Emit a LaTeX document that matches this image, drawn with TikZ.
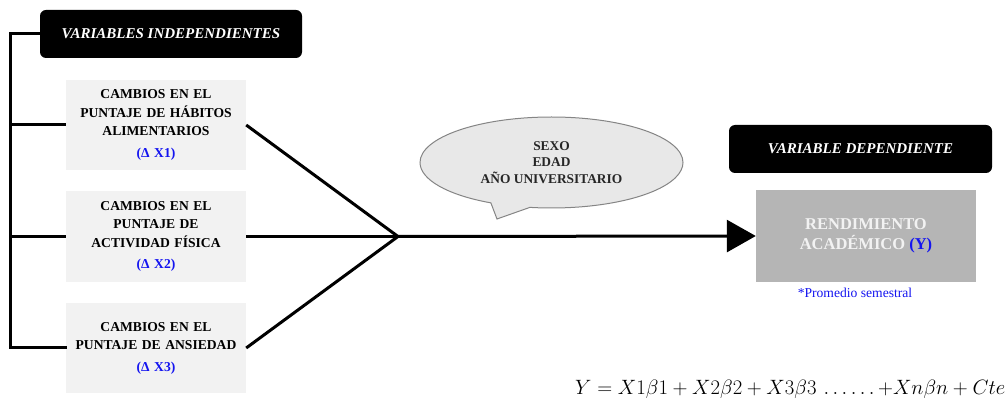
\documentclass[tikz,border=0pt]{standalone}
\usepackage{fontspec}
\setmainfont{Liberation Serif}
\usetikzlibrary{arrows.meta,shapes.callouts,shapes.geometric}
\definecolor{boxgray}{HTML}{F2F2F2}
\definecolor{depgray}{HTML}{B5B5B5}
\definecolor{ellfill}{HTML}{E8E8E8}
\definecolor{ellline}{HTML}{858585}
\definecolor{myblue}{HTML}{1414F0}
\begin{document}
\begin{tikzpicture}[x=1pt,y=-1pt,
  header/.style={fill=black,rounded corners=6pt,text=white,minimum width=#1,minimum height=48pt,inner sep=0pt,
     font=\fontsize{15}{18}\selectfont\bfseries\itshape},
  indbox/.style={fill=boxgray,minimum width=180pt,minimum height=90pt,text width=175pt,align=center,inner sep=0pt,
     font=\fontsize{13.6}{18.5}\selectfont\bfseries},
  conn/.style={line width=3pt},
  delta/.style={text=myblue}]
\useasboundingbox (0,0) rectangle (1005,406);
\node[header=262pt] (vi) at (171,34) {VARIABLES INDEPENDIENTES};
\node[header=263pt] (vd) at (860.5,149) {VARIABLE DEPENDIENTE};
\node[indbox] (b1) at (156,125) {CAMBIOS EN EL\\PUNTAJE DE HÁBITOS\\ALIMENTARIOS\\[3pt]\textcolor{myblue}{(Δ X1)}};
\node[indbox,minimum height=91pt] (b2) at (156,236.5) {CAMBIOS EN EL\\PUNTAJE DE\\ACTIVIDAD FÍSICA\\[3pt]\textcolor{myblue}{(Δ X2)}};
\node[indbox] (b3) at (156,348) {CAMBIOS EN EL\\PUNTAJE DE ANSIEDAD\\[3pt]\textcolor{myblue}{(Δ X3)}};
\node[fill=depgray,minimum width=220pt,minimum height=92pt,inner sep=0pt,align=center,text=boxgray,
  font=\fontsize{16.5}{20}\selectfont\bfseries] (rend) at (866,236) {RENDIMIENTO\\ACADÉMICO \textcolor{myblue}{(Y)}};
\node[text=myblue,font=\fontsize{13.6}{16}\selectfont,inner sep=0pt] (prom) at (855,293) {*Promedio semestral};
\node[ellipse callout,callout absolute pointer={(497,219)},callout pointer arc=18,fill=ellfill,draw=ellline,line width=1pt,
  minimum width=263pt,minimum height=91pt,inner sep=0pt,align=center,text=black!85,
  font=\fontsize{13.4}{16.5}\selectfont\bfseries] (ell) at (551.5,162.5) {SEXO\\EDAD\\AÑO UNIVERSITARIO};
\node[anchor=west,inner sep=0pt,font=\fontsize{20}{22}\selectfont] (eq) at (575,389)
  {$Y=X1\beta1+X2\beta2+X3\beta3\,\ldots\ldots{+}Xn\beta n+Cte$};
\coordinate (L) at (10,34);
\coordinate (J) at (398,236.5);
\draw[conn,line cap=rect] (vi.west) -- (L) |- (b3.west);
\draw[conn] (b1.west) -- (b1.west -| L);
\draw[conn] (b2.west) -- (b2.west -| L);
\draw[conn] (b1.east) -- (J);
\draw[conn] (b2.east) -- (J);
\draw[conn] (b3.east) -- (J);
\draw[conn,-{Triangle[length=29pt,width=32pt]}] (J) -- (rend.west);
\end{tikzpicture}
\end{document}
